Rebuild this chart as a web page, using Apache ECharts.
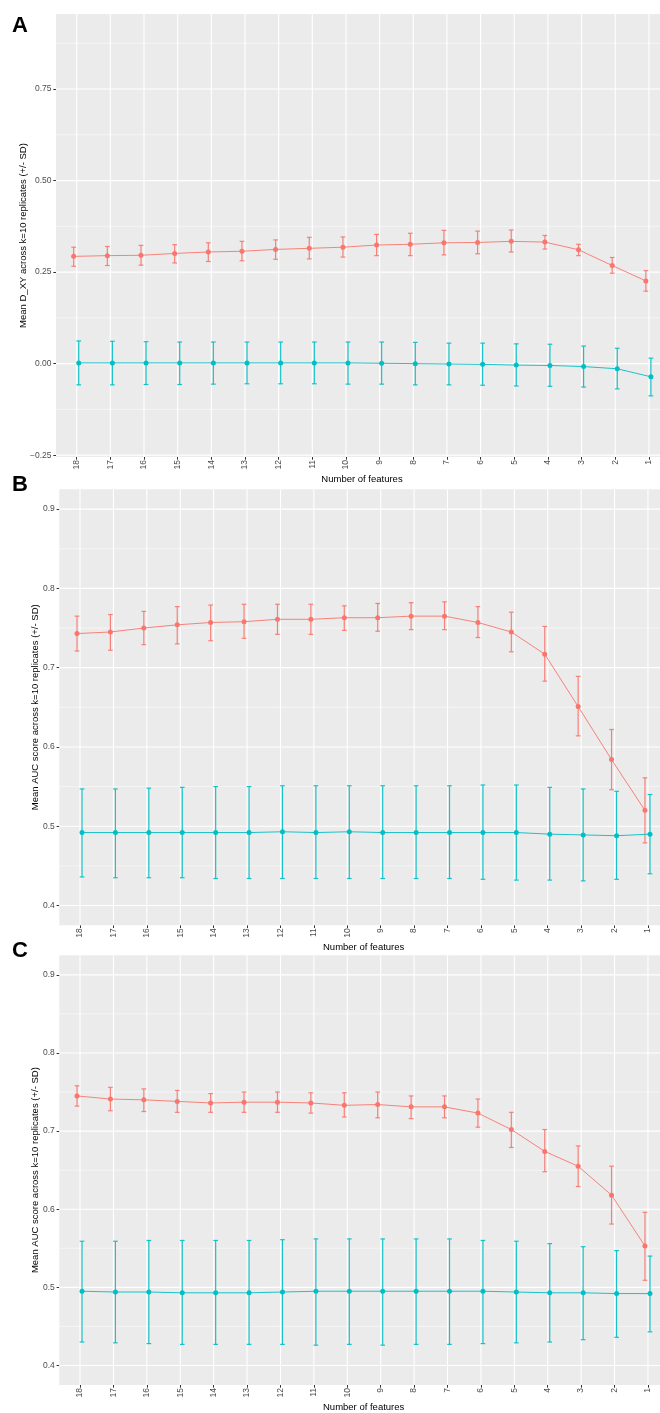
<!DOCTYPE html>
<html>
<head>
<meta charset="utf-8">
<script src="https://cdn.jsdelivr.net/npm/echarts@6/dist/echarts.min.js"></script>
<style>
html,body{margin:0;padding:0;background:#fff;}
#c{width:660px;height:1413px;}
</style>
</head>
<body>
<div id="c"></div>
<script>
// ---- data ----
const categories = ['18','17','16','15','14','13','12','11','10','9','8','7','6','5','4','3','2','1'];

// Panel A: Mean D_XY
const aRedMean = [0.293,0.295,0.296,0.301,0.305,0.307,0.312,0.315,0.318,0.324,0.326,0.330,0.331,0.334,0.332,0.311,0.268,0.226];
const aRedLow  = [0.266,0.268,0.269,0.275,0.279,0.281,0.285,0.286,0.291,0.295,0.295,0.297,0.300,0.305,0.313,0.295,0.247,0.198];
const aRedHigh = [0.318,0.320,0.323,0.325,0.330,0.334,0.338,0.345,0.346,0.353,0.356,0.364,0.362,0.365,0.350,0.326,0.290,0.254];
const aCyanMean = [0.002,0.002,0.002,0.002,0.002,0.002,0.002,0.002,0.002,0.001,0.000,-0.001,-0.002,-0.004,-0.005,-0.008,-0.014,-0.036];
const aCyanLow  = [-0.058,-0.058,-0.057,-0.057,-0.056,-0.055,-0.055,-0.055,-0.056,-0.056,-0.058,-0.058,-0.059,-0.061,-0.062,-0.064,-0.069,-0.088];
const aCyanHigh = [0.062,0.061,0.060,0.059,0.059,0.059,0.059,0.059,0.059,0.059,0.058,0.056,0.056,0.054,0.053,0.048,0.042,0.015];

// Panel B: Mean AUC
const bRedMean = [0.743,0.745,0.750,0.754,0.757,0.758,0.761,0.761,0.763,0.763,0.765,0.765,0.757,0.745,0.717,0.651,0.584,0.520];
const bRedLow  = [0.721,0.722,0.729,0.730,0.734,0.737,0.742,0.742,0.747,0.746,0.748,0.748,0.738,0.720,0.683,0.614,0.546,0.479];
const bRedHigh = [0.765,0.767,0.771,0.777,0.779,0.780,0.780,0.780,0.778,0.781,0.782,0.783,0.777,0.770,0.752,0.689,0.622,0.561];
const bCyanMean = [0.492,0.492,0.492,0.492,0.492,0.492,0.493,0.492,0.493,0.492,0.492,0.492,0.492,0.492,0.490,0.489,0.488,0.490];
const bCyanLow  = [0.436,0.435,0.435,0.435,0.434,0.434,0.434,0.434,0.434,0.434,0.434,0.434,0.433,0.432,0.432,0.431,0.433,0.440];
const bCyanHigh = [0.547,0.547,0.548,0.549,0.550,0.550,0.551,0.551,0.551,0.551,0.551,0.551,0.552,0.552,0.549,0.547,0.544,0.540];

// Panel C: Mean AUC
const cRedMean = [0.745,0.741,0.740,0.738,0.736,0.737,0.737,0.736,0.733,0.734,0.731,0.731,0.723,0.702,0.674,0.655,0.618,0.553];
const cRedLow  = [0.732,0.726,0.725,0.724,0.724,0.724,0.724,0.723,0.718,0.717,0.716,0.717,0.705,0.679,0.648,0.629,0.581,0.509];
const cRedHigh = [0.758,0.756,0.754,0.752,0.748,0.750,0.750,0.749,0.749,0.750,0.745,0.745,0.741,0.724,0.702,0.681,0.655,0.596];
const cCyanMean = [0.495,0.494,0.494,0.493,0.493,0.493,0.494,0.495,0.495,0.495,0.495,0.495,0.495,0.494,0.493,0.493,0.492,0.492];
const cCyanLow  = [0.430,0.429,0.428,0.427,0.427,0.427,0.427,0.426,0.427,0.426,0.427,0.427,0.428,0.429,0.430,0.433,0.436,0.443];
const cCyanHigh = [0.559,0.559,0.560,0.560,0.560,0.560,0.561,0.562,0.562,0.562,0.562,0.562,0.560,0.559,0.556,0.552,0.547,0.540];

const yTicksA = [-0.25, 0, 0.25, 0.5, 0.75];
const yTicksB = [0.4, 0.5, 0.6, 0.7, 0.8, 0.9];
const yTicksC = [0.4, 0.5, 0.6, 0.7, 0.8, 0.9];

const yTitleA = 'Mean D_XY across k=10 replicates (+/- SD)';
const yTitleB = 'Mean AUC score across k=10 replicates (+/- SD)';
const yTitleC = 'Mean AUC score across k=10 replicates (+/- SD)';
const xTitle = 'Number of features';

// ---- styling ----
const RED = '#F8766D', CYAN = '#00BFC4';
const FONT = 'Liberation Sans, Arial, Helvetica, sans-serif';
const DODGE_RED = -0.09, DODGE_CYAN = 0.06;

// The reference plot panels run past the right edge of the picture; the visible x window is cropped.
const panels = [
  {letter:'A', letterY:26, left:56, top:14, height:443, xMin:-0.615, xMax:17.33, yMin:-0.255, yMax:0.955, ticks:yTicksA, dec:2, title:yTitleA, nameGap:28,
   red:[aRedMean,aRedLow,aRedHigh], cyan:[aCyanMean,aCyanLow,aCyanHigh]},
  {letter:'B', letterY:485, left:59.3, top:489.3, height:436, xMin:-0.62, xMax:17.36, yMin:0.375, yMax:0.925, ticks:yTicksB, dec:1, title:yTitleB, nameGap:19,
   red:[bRedMean,bRedLow,bRedHigh], cyan:[bCyanMean,bCyanLow,bCyanHigh]},
  {letter:'C', letterY:951, left:59.3, top:955.3, height:433.5, xMin:-0.62, xMax:17.36, yMin:0.375, yMax:0.925, ticks:yTicksC, dec:1, title:yTitleC, nameGap:19,
   red:[cRedMean,cRedLow,cRedHigh], cyan:[cCyanMean,cCyanLow,cCyanHigh]}
];

const chart = echarts.init(document.getElementById('c'), null, {renderer:'canvas'});

const grids = [], xAxes = [], yAxes = [], series = [], graphics = [];
const idx = categories.map((c,i)=>i);

function minorTicks(ticks, lo, hi){
  const out = [];
  const step = ticks[1]-ticks[0];
  for (let i=-1;i<ticks.length;i++){
    const v = (i<0 ? ticks[0]-step/2 : ticks[i]+step/2);
    if (v>lo && v<hi) out.push(v);
  }
  return out;
}

function fmt(v, dec){
  const s = Math.abs(v).toFixed(dec);
  return v < -1e-9 ? '\u2212' + s : s;
}

function gridRender(params, api){
  const cs = params.coordSys;
  const kind = api.value(2);
  if (kind === 2){
    const x = api.coord([api.value(0), 0])[0];
    return {type:'line', shape:{x1:x, y1:cs.y, x2:x, y2:cs.y+cs.height}, style:{stroke:'#ffffff', lineWidth:1.1}};
  }
  const y = api.coord([0, api.value(1)])[1];
  return {type:'line', shape:{x1:cs.x, y1:y, x2:cs.x+cs.width, y2:y},
          style:{stroke:'#ffffff', lineWidth: kind===0 ? 1.1 : 0.5}};
}

function errRender(color){
  return function(params, api){
    const x = api.value(0), lo = api.value(1), hi = api.value(2);
    const p1 = api.coord([x, lo]), p2 = api.coord([x, hi]);
    const half = api.size([1,0])[0]*0.07;
    const st = {stroke:color, lineWidth:1.2, opacity:0.9};
    return {type:'group', children:[
      {type:'line', shape:{x1:p1[0], y1:p1[1], x2:p2[0], y2:p2[1]}, style:st},
      {type:'line', shape:{x1:p1[0]-half, y1:p1[1], x2:p1[0]+half, y2:p1[1]}, style:st},
      {type:'line', shape:{x1:p2[0]-half, y1:p2[1], x2:p2[0]+half, y2:p2[1]}, style:st}
    ]};
  };
}

panels.forEach((p, k)=>{
  grids.push({left:p.left, right:0, top:p.top, height:p.height, show:true, backgroundColor:'#EBEBEB', borderWidth:0, containLabel:false});
  xAxes.push({
    type:'value', gridIndex:k, min:p.xMin, max:p.xMax,
    axisLine:{show:false, onZero:false}, splitLine:{show:false},
    axisTick:{show:true, length:2.7, customValues:idx, lineStyle:{color:'#333333', width:1}},
    axisLabel:{customValues:idx, rotate:90, margin:3, fontSize:8.5, color:'#4D4D4D', fontFamily:FONT,
      formatter:(v)=>categories[Math.round(v)]},
    name:xTitle, nameLocation:'middle', nameGap:17, nameMoveOverlap:false,
    nameTextStyle:{fontSize:9.5, color:'#000', fontFamily:FONT, padding:[0,0,0,8]}
  });
  yAxes.push({
    type:'value', gridIndex:k, min:p.yMin, max:p.yMax,
    axisLine:{show:false, onZero:false}, splitLine:{show:false},
    axisTick:{show:true, length:2.7, customValues:p.ticks, lineStyle:{color:'#333333', width:1}},
    axisLabel:{customValues:p.ticks, margin:4.5, fontSize:8.5, color:'#4D4D4D', fontFamily:FONT,
      formatter:(v)=>fmt(v, p.dec)},
    name:p.title, nameLocation:'middle', nameGap:p.nameGap, nameRotate:90, nameMoveOverlap:false,
    nameTextStyle:{fontSize:9.5, color:'#000', fontFamily:FONT}
  });

  // grid lines
  const gdata = [];
  p.ticks.forEach(v=>gdata.push([0, v, 0]));
  minorTicks(p.ticks, p.yMin, p.yMax).forEach(v=>gdata.push([0, v, 1]));
  idx.forEach(i=>gdata.push([i, 0, 2]));
  series.push({type:'custom', xAxisIndex:k, yAxisIndex:k, renderItem:gridRender, data:gdata, silent:true, z:1, clip:false,
    encode:{x:0, y:1}});

  [[p.red, RED, DODGE_RED], [p.cyan, CYAN, DODGE_CYAN]].forEach(([arr, color, dodge])=>{
    const [mean, lo, hi] = arr;
    series.push({type:'custom', xAxisIndex:k, yAxisIndex:k, renderItem:errRender(color), silent:true, z:2,
      encode:{x:0, y:[1,2]},
      data: idx.map(i=>[i+dodge, lo[i], hi[i]])});
    series.push({type:'line', xAxisIndex:k, yAxisIndex:k, z:3, silent:true, animation:false,
      symbol:'circle', symbolSize:5, showSymbol:true,
      lineStyle:{color:color, width:1, opacity:0.9}, itemStyle:{color:color},
      data: idx.map(i=>[i+dodge, mean[i]])});
  });

  graphics.push({type:'text', left:12, top:p.letterY-11, style:{text:p.letter, font:'bold 22px ' + FONT, fill:'#000'}});
});

chart.setOption({
  animation:false,
  grid:grids, xAxis:xAxes, yAxis:yAxes, series:series, graphic:graphics
});
</script>
</body>
</html>
